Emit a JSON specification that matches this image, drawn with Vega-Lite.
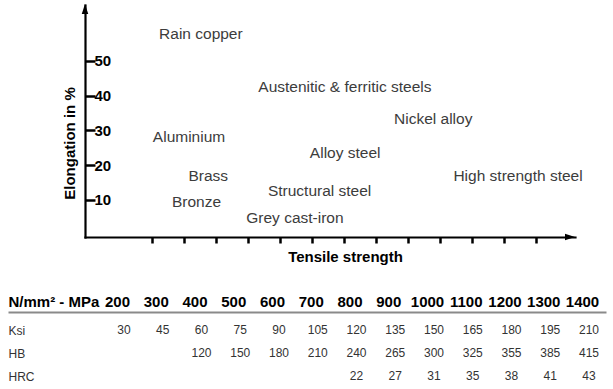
{
  "$schema": "https://vega.github.io/schema/vega-lite/v6.json",
  "width": 613,
  "height": 389,
  "autosize": {"type": "none"},
  "padding": 0,
  "config": {"view": {"stroke": null}, "font": "Liberation Sans", "axis": {"grid": false}},
  "datasets": {
    "materials": [
      {"material": "Rain copper", "strength": 352, "elongation": 57.8},
      {"material": "Austenitic & ferritic steels", "strength": 802, "elongation": 42.4},
      {"material": "Aluminium", "strength": 315, "elongation": 28.0},
      {"material": "Brass", "strength": 375, "elongation": 17.0},
      {"material": "Bronze", "strength": 338.5, "elongation": 9.3},
      {"material": "Structural steel", "strength": 723, "elongation": 12.6},
      {"material": "Grey cast-iron", "strength": 646, "elongation": 4.7},
      {"material": "Alloy steel", "strength": 803, "elongation": 23.4},
      {"material": "Nickel alloy", "strength": 1078, "elongation": 33.3},
      {"material": "High strength steel", "strength": 1343, "elongation": 17.0}
    ],
    "arrows": [
      {"strength": -10, "elongation": 64.96, "dir": "up"},
      {"strength": 1505.4, "elongation": -0.65, "dir": "right"}
    ],
    "table": [
      {"row": "Ksi", "mpa": 200, "v": "30"},
      {"row": "Ksi", "mpa": 300, "v": "45"},
      {"row": "Ksi", "mpa": 400, "v": "60"},
      {"row": "Ksi", "mpa": 500, "v": "75"},
      {"row": "Ksi", "mpa": 600, "v": "90"},
      {"row": "Ksi", "mpa": 700, "v": "105"},
      {"row": "Ksi", "mpa": 800, "v": "120"},
      {"row": "Ksi", "mpa": 900, "v": "135"},
      {"row": "Ksi", "mpa": 1000, "v": "150"},
      {"row": "Ksi", "mpa": 1100, "v": "165"},
      {"row": "Ksi", "mpa": 1200, "v": "180"},
      {"row": "Ksi", "mpa": 1300, "v": "195"},
      {"row": "Ksi", "mpa": 1400, "v": "210"},
      {"row": "HB", "mpa": 400, "v": "120"},
      {"row": "HB", "mpa": 500, "v": "150"},
      {"row": "HB", "mpa": 600, "v": "180"},
      {"row": "HB", "mpa": 700, "v": "210"},
      {"row": "HB", "mpa": 800, "v": "240"},
      {"row": "HB", "mpa": 900, "v": "265"},
      {"row": "HB", "mpa": 1000, "v": "300"},
      {"row": "HB", "mpa": 1100, "v": "325"},
      {"row": "HB", "mpa": 1200, "v": "355"},
      {"row": "HB", "mpa": 1300, "v": "385"},
      {"row": "HB", "mpa": 1400, "v": "415"},
      {"row": "HRC", "mpa": 800, "v": "22"},
      {"row": "HRC", "mpa": 900, "v": "27"},
      {"row": "HRC", "mpa": 1000, "v": "31"},
      {"row": "HRC", "mpa": 1100, "v": "35"},
      {"row": "HRC", "mpa": 1200, "v": "38"},
      {"row": "HRC", "mpa": 1300, "v": "41"},
      {"row": "HRC", "mpa": 1400, "v": "43"}
    ]
  },
  "layer": [
    {
      "layer": [
        {
          "data": {"name": "materials"},
          "mark": {"type": "text", "fontSize": 15.5, "color": "#3c3c3c", "align": "center", "baseline": "middle"},
          "encoding": {
            "x": {
              "field": "strength", "type": "quantitative",
              "scale": {"domain": [-10, 1521], "range": [85, 575], "nice": false, "zero": false},
              "axis": {
                "orient": "bottom", "offset": -152,
                "values": [200, 300, 400, 500, 600, 700, 800, 900, 1000, 1100, 1200, 1300, 1400],
                "labels": false, "ticks": true, "tickSize": 6, "tickWidth": 2.5, "tickColor": "black",
                "domainColor": "black", "domainWidth": 2.2, "domainCap": "square",
                "title": "Tensile strength", "titleFontSize": 15, "titleFontWeight": "bold", "titleColor": "black",
                "titleX": 345, "titleY": 19, "titleBaseline": "middle", "titleAlign": "center"
              }
            },
            "y": {
              "field": "elongation", "type": "quantitative",
              "scale": {"domain": [-0.65, 66.1], "range": [237, 5], "nice": false, "zero": false},
              "axis": {
                "orient": "left", "offset": -85,
                "values": [10, 20, 30, 40, 50], "format": "d",
                "tickSize": -10, "tickWidth": 2.5, "tickColor": "black",
                "domainColor": "black", "domainWidth": 2.2, "domainCap": "square",
                "labelAlign": "left", "labelBaseline": "middle", "labelPadding": 1,
                "labelFontSize": 15, "labelFontWeight": "bold", "labelColor": "black",
                "title": "Elongation in %", "titleFontSize": 15, "titleFontWeight": "bold", "titleColor": "black",
                "titleAngle": 270, "titleX": -16, "titleY": 143, "titleAlign": "center", "titleBaseline": "middle"
              }
            },
            "text": {"field": "material", "type": "nominal"}
          }
        },
        {
          "data": {"name": "arrows"},
          "transform": [{"filter": "datum.dir == 'up'"}],
          "mark": {"type": "point", "shape": "M0,-1L-0.65,1L0.65,1Z", "filled": true, "color": "black", "size": 100, "opacity": 1},
          "encoding": {
            "x": {"field": "strength", "type": "quantitative"},
            "y": {"field": "elongation", "type": "quantitative"}
          }
        },
        {
          "data": {"name": "arrows"},
          "transform": [{"filter": "datum.dir == 'right'"}],
          "mark": {"type": "point", "shape": "M1,0L-1,-0.65L-1,0.65Z", "filled": true, "color": "black", "size": 100, "opacity": 1},
          "encoding": {
            "x": {"field": "strength", "type": "quantitative"},
            "y": {"field": "elongation", "type": "quantitative"}
          }
        }
      ]
    },
    {
      "data": {"name": "table"},
      "mark": {"type": "text", "fontSize": 12, "color": "#333333", "align": "center", "baseline": "middle", "dx": 7},
      "encoding": {
        "x": {
          "field": "mpa", "type": "quantitative",
          "scale": {"domain": [-81.3, 1461.9], "range": [8, 606], "nice": false, "zero": false},
          "axis": {
            "orient": "top", "offset": -312,
            "values": [200, 300, 400, 500, 600, 700, 800, 900, 1000, 1100, 1200, 1300, 1400], "format": "d",
            "ticks": false, "domainColor": "#8a8a8a", "domainWidth": 2.2,
            "labelFontSize": 15, "labelFontWeight": "bold", "labelColor": "black",
            "labelBaseline": "middle", "labelPadding": 11, "labelAlign": "center",
            "labelFlush": false, "labelOverlap": false, "labelBound": false,
            "title": "N/mm² - MPa", "titleFontSize": 15, "titleFontWeight": "bold", "titleColor": "black",
            "titleX": 8, "titleY": -11, "titleAlign": "left", "titleBaseline": "middle", "titleAnchor": "start"
          }
        },
        "y": {
          "field": "row", "type": "nominal",
          "scale": {"type": "point", "domain": ["Ksi", "HB", "HRC"], "range": [330, 376], "padding": 0},
          "axis": {
            "orient": "left", "offset": -8, "domain": false, "ticks": false,
            "labelAlign": "left", "labelPadding": 0, "labelFontSize": 12, "labelColor": "#333333",
            "labelBaseline": "middle", "title": null
          }
        },
        "text": {"field": "v", "type": "nominal"}
      }
    }
  ],
  "resolve": {"scale": {"x": "independent", "y": "independent"}}
}
